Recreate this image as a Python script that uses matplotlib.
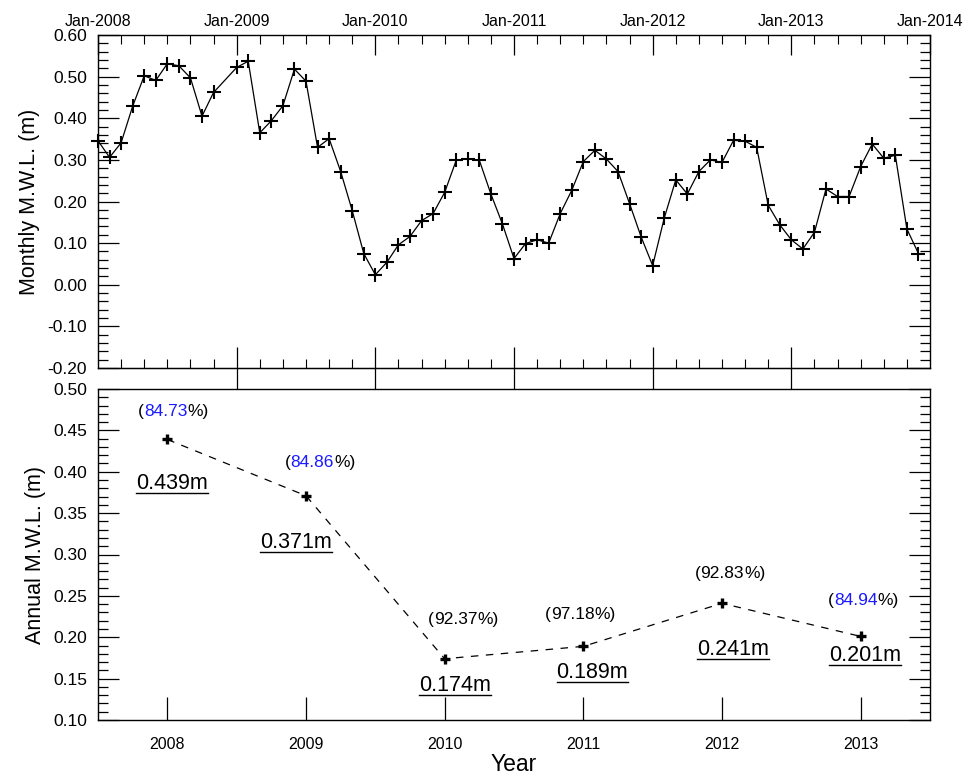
import numpy as np
import pandas as pd
import matplotlib
matplotlib.use("Agg")
import matplotlib.pyplot as plt
from matplotlib import font_manager
from matplotlib.lines import Line2D
from matplotlib.ticker import MultipleLocator

# monthly mean water level, Jan-2008 .. Dec-2013 (no record for Dec-2008)
months = pd.date_range("2008-01-01", "2013-12-01", freq="MS").drop(pd.Timestamp("2008-12-01"))
monthly_mwl = [
    0.346, 0.306, 0.341, 0.429, 0.502, 0.491, 0.531, 0.526, 0.497, 0.405, 0.462,
    0.522, 0.537, 0.365, 0.394, 0.430, 0.518, 0.489, 0.330, 0.351, 0.272, 0.178, 0.075,
    0.024, 0.054, 0.096, 0.116, 0.154, 0.171, 0.222, 0.299, 0.303, 0.299, 0.218, 0.146,
    0.063, 0.099, 0.108, 0.100, 0.171, 0.227, 0.296, 0.323, 0.302, 0.272, 0.195, 0.115,
    0.046, 0.160, 0.252, 0.218, 0.272, 0.300, 0.294, 0.347, 0.345, 0.330, 0.191, 0.144,
    0.108, 0.086, 0.126, 0.230, 0.212, 0.212, 0.284, 0.338, 0.304, 0.311, 0.134, 0.075,
]

# annual means and data availability
years = [2008, 2009, 2010, 2011, 2012, 2013]
annual_mwl = [0.439, 0.371, 0.174, 0.189, 0.241, 0.201]
coverage = [84.73, 84.86, 92.37, 97.18, 92.83, 84.94]

top_years = list(range(2008, 2015))
top_labels = ["Jan-%d" % y for y in top_years]

avail = set(f.name for f in font_manager.fontManager.ttflist)
narrow = "Liberation Sans Narrow" if "Liberation Sans Narrow" in avail else "Liberation Sans"
plt.rcParams["font.family"] = ["Liberation Sans", "DejaVu Sans"]

W, H = 968, 776
fig = plt.figure(figsize=(W / 100, H / 100), dpi=100)
ax1 = fig.add_axes([98 / W, 1 - 368 / H, 832 / W, 333 / H])
ax2 = fig.add_axes([98 / W, 1 - 720 / H, 832 / W, 331 / H])

px = 0.72  # points per pixel at 100 dpi

# ---- monthly panel ----
xm = months.year + (months.month - 1) / 12.0
ax1.plot(xm, monthly_mwl, color="black", lw=0.9, marker="+", ms=9.5, mew=1.5,
         clip_on=False, zorder=3)
ax1.set_xlim(2008, 2014)
ax1.set_ylim(-0.2, 0.6)
ax1.set_xticks(top_years)
ax1.set_xticklabels(top_labels, fontfamily=narrow, fontsize=11.5)
ax1.xaxis.set_minor_locator(MultipleLocator(2 / 12.0))
ax1.yaxis.set_major_locator(MultipleLocator(0.1))
ax1.yaxis.set_minor_locator(MultipleLocator(0.02))
ax1.yaxis.set_major_formatter(lambda v, p: "%.2f" % v)
ax1.tick_params(axis="x", which="both", direction="in", top=True, labeltop=True,
                bottom=False, labelbottom=False, pad=4)
ax1.tick_params(axis="x", which="major", length=20 * px, width=0.9)
ax1.tick_params(axis="x", which="minor", bottom=True, length=9 * px, width=0.8)
ax1.tick_params(axis="y", which="both", direction="in", left=True, right=True, width=0.9)
ax1.tick_params(axis="y", which="major", length=21 * px, labelsize=12.5, pad=8)
ax1.tick_params(axis="y", which="minor", length=10 * px)
for lab in ax1.get_yticklabels():
    lab.set_fontfamily(narrow)
ax1.set_ylabel("Monthly M.W.L. (m)", fontsize=15.5, labelpad=5)

# yearly ticks on the lower edge cross the spine
sec = ax1.secondary_xaxis("bottom")
sec.set_xticks(top_years[1:-1])
sec.set_xticklabels([])
sec.tick_params(direction="inout", length=43 * px, width=0.9)

# ---- annual panel ----
ax2.plot(years, annual_mwl, color="black", lw=0.9, ls=(0, (6, 6)),
         marker="+", ms=7.5, mew=2.4)
ax2.set_xlim(2007.5, 2013.5)
ax2.set_ylim(0.1, 0.5)
ax2.set_xticks(years)
ax2.set_xticklabels([str(y) for y in years], fontfamily=narrow, fontsize=11.5)
ax2.yaxis.set_major_locator(MultipleLocator(0.05))
ax2.yaxis.set_minor_locator(MultipleLocator(0.01))
ax2.yaxis.set_major_formatter(lambda v, p: "%.2f" % v)
ax2.tick_params(axis="x", which="major", direction="in", length=23 * px, width=0.9, pad=12)
ax2.tick_params(axis="y", which="both", direction="in", left=True, right=True, width=0.9)
ax2.tick_params(axis="y", which="major", length=21 * px, labelsize=12.5, pad=8)
ax2.tick_params(axis="y", which="minor", length=10 * px)
for lab in ax2.get_yticklabels():
    lab.set_fontfamily(narrow)
ax2.set_xlabel("Year", fontsize=16.5, labelpad=1)
ax2.set_ylabel("Annual M.W.L. (m)", fontsize=15.5, labelpad=5)

for ax in (ax1, ax2):
    for s in ax.spines.values():
        s.set_linewidth(1.0)

# label offsets (pixels) relative to each annual point
pct_offsets = [(6, 28), (14, 33), (19, 39), (-3, 32), (8, 30), (3, 36)]
val_offsets = [(5, -44), (-10, -47), (10, -27), (9, -26), (11, -46), (4, -19)]
pct_colors = ["#1a1aff", "#1a1aff", "black", "black", "black", "#1a1aff"]

fig.canvas.draw()
r = fig.canvas.get_renderer()

for yr, val, pct, col, po, vo in zip(years, annual_mwl, coverage, pct_colors,
                                     pct_offsets, val_offsets):
    pieces = [("(", "black"), ("%.2f" % pct, col), ("%)", "black")]
    widths = []
    for s, c in pieces:
        t = ax2.text(0, 0, s, fontsize=12.5)
        widths.append(t.get_window_extent(r).width)
        t.remove()
    xs = po[0] - sum(widths) / 2.0
    for (s, c), w in zip(pieces, widths):
        ax2.annotate(s, (yr, val), xytext=(xs, po[1]), textcoords="offset pixels",
                     ha="left", va="center", fontsize=12.5, color=c)
        xs += w

    t = ax2.annotate("%.3fm" % val, (yr, val), xytext=vo, textcoords="offset pixels",
                     ha="center", va="center", fontsize=15.5, color="black")
    bb = t.get_window_extent(r)
    yline = (bb.y0 + 1) / H
    fig.add_artist(Line2D([bb.x0 / W, bb.x1 / W], [yline, yline],
                          transform=fig.transFigure, color="black", lw=1.0))

fig.savefig("out.png", dpi=100)
